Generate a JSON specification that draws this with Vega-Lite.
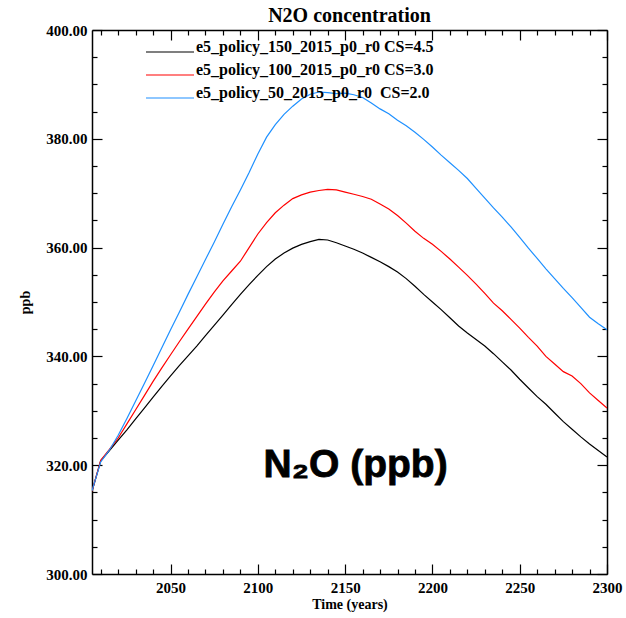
{
  "$schema": "https://vega.github.io/schema/vega-lite/v6.json",
  "width": 515,
  "height": 544,
  "autosize": {"type": "none"},
  "padding": {"left": 92, "top": 30, "right": 19, "bottom": 44},
  "background": "white",
  "config": {"view": {"stroke": null}, "font": "Liberation Serif"},
  "title": {"text": "N2O concentration", "font": "Liberation Serif", "fontSize": 20, "fontWeight": "bold", "color": "black", "anchor": "middle", "offset": -3},
  "datasets": {
    "n2o": [
      {"year": 2005, "s150": 315.2, "s100": 315.2, "s50": 315.3},
      {"year": 2010, "s150": 320.8, "s100": 320.9, "s50": 320.6},
      {"year": 2015, "s150": 322.7, "s100": 322.9, "s50": 322.8},
      {"year": 2020, "s150": 324.6, "s100": 325.0, "s50": 325.5},
      {"year": 2025, "s150": 326.5, "s100": 327.6, "s50": 328.6},
      {"year": 2030, "s150": 328.5, "s100": 330.2, "s50": 331.8},
      {"year": 2035, "s150": 330.5, "s100": 332.8, "s50": 335.0},
      {"year": 2040, "s150": 332.5, "s100": 335.4, "s50": 338.3},
      {"year": 2045, "s150": 334.5, "s100": 337.9, "s50": 341.6},
      {"year": 2050, "s150": 336.4, "s100": 340.3, "s50": 344.9},
      {"year": 2055, "s150": 338.3, "s100": 342.7, "s50": 348.1},
      {"year": 2060, "s150": 340.1, "s100": 345.0, "s50": 351.4},
      {"year": 2065, "s150": 341.9, "s100": 347.3, "s50": 354.6},
      {"year": 2070, "s150": 343.8, "s100": 349.6, "s50": 357.8},
      {"year": 2075, "s150": 345.7, "s100": 351.8, "s50": 361.0},
      {"year": 2080, "s150": 347.6, "s100": 353.9, "s50": 364.3},
      {"year": 2085, "s150": 349.5, "s100": 355.7, "s50": 367.5},
      {"year": 2090, "s150": 351.4, "s100": 357.5, "s50": 370.6},
      {"year": 2095, "s150": 353.2, "s100": 360.0, "s50": 373.8},
      {"year": 2100, "s150": 354.9, "s100": 362.5, "s50": 377.2},
      {"year": 2105, "s150": 356.5, "s100": 364.6, "s50": 380.3},
      {"year": 2110, "s150": 357.9, "s100": 366.4, "s50": 382.6},
      {"year": 2115, "s150": 359.0, "s100": 367.8, "s50": 384.5},
      {"year": 2120, "s150": 359.9, "s100": 369.0, "s50": 386.0},
      {"year": 2125, "s150": 360.6, "s100": 369.7, "s50": 387.3},
      {"year": 2130, "s150": 361.1, "s100": 370.2, "s50": 388.2},
      {"year": 2135, "s150": 361.5, "s100": 370.5, "s50": 388.6},
      {"year": 2140, "s150": 361.4, "s100": 370.7, "s50": 388.5},
      {"year": 2145, "s150": 360.9, "s100": 370.6, "s50": 388.3},
      {"year": 2150, "s150": 360.3, "s100": 370.2, "s50": 388.4},
      {"year": 2155, "s150": 359.7, "s100": 369.8, "s50": 388.1},
      {"year": 2160, "s150": 359.0, "s100": 369.4, "s50": 387.6},
      {"year": 2165, "s150": 358.2, "s100": 368.9, "s50": 386.6},
      {"year": 2170, "s150": 357.4, "s100": 368.0, "s50": 385.5},
      {"year": 2175, "s150": 356.5, "s100": 367.1, "s50": 384.6},
      {"year": 2180, "s150": 355.5, "s100": 365.9, "s50": 383.4},
      {"year": 2185, "s150": 354.3, "s100": 364.5, "s50": 382.4},
      {"year": 2190, "s150": 352.9, "s100": 363.0, "s50": 381.2},
      {"year": 2195, "s150": 351.4, "s100": 361.7, "s50": 379.9},
      {"year": 2200, "s150": 350.0, "s100": 360.6, "s50": 378.5},
      {"year": 2205, "s150": 348.6, "s100": 359.3, "s50": 377.0},
      {"year": 2210, "s150": 347.1, "s100": 357.9, "s50": 375.6},
      {"year": 2215, "s150": 345.6, "s100": 356.4, "s50": 374.2},
      {"year": 2220, "s150": 344.3, "s100": 354.9, "s50": 372.7},
      {"year": 2225, "s150": 343.1, "s100": 353.3, "s50": 370.9},
      {"year": 2230, "s150": 341.9, "s100": 351.6, "s50": 369.1},
      {"year": 2235, "s150": 340.5, "s100": 349.8, "s50": 367.3},
      {"year": 2240, "s150": 339.0, "s100": 348.4, "s50": 365.6},
      {"year": 2245, "s150": 337.5, "s100": 346.8, "s50": 363.8},
      {"year": 2250, "s150": 335.8, "s100": 345.2, "s50": 361.9},
      {"year": 2255, "s150": 334.2, "s100": 343.5, "s50": 359.9},
      {"year": 2260, "s150": 332.6, "s100": 341.9, "s50": 358.0},
      {"year": 2265, "s150": 331.2, "s100": 340.0, "s50": 356.1},
      {"year": 2270, "s150": 329.6, "s100": 338.6, "s50": 354.3},
      {"year": 2275, "s150": 328.0, "s100": 337.2, "s50": 352.5},
      {"year": 2280, "s150": 326.6, "s100": 336.4, "s50": 350.8},
      {"year": 2285, "s150": 325.2, "s100": 335.0, "s50": 349.0},
      {"year": 2290, "s150": 323.9, "s100": 333.3, "s50": 347.2},
      {"year": 2295, "s150": 322.7, "s100": 331.9, "s50": 346.0},
      {"year": 2300, "s150": 321.5, "s100": 330.5, "s50": 344.9}
    ]
  },
  "layer": [
    {
      "data": {"name": "n2o"},
      "transform": [{"fold": ["s150", "s100", "s50"], "as": ["run", "ppb"]}],
      "mark": {"type": "line", "strokeWidth": 1.2, "clip": true},
      "encoding": {
        "x": {
          "field": "year", "type": "quantitative",
          "scale": {"domain": [2005, 2300], "nice": false, "zero": false},
          "axis": {
            "orient": "bottom",
            "values": [2050, 2100, 2150, 2200, 2250, 2300],
            "format": "d",
            "tickSize": -10,
            "grid": false,
            "domainColor": "black", "domainWidth": 1.5,
            "tickColor": "black", "tickWidth": 1.2,
            "labelFont": "Liberation Serif", "labelFontWeight": "bold", "labelFontSize": 15, "labelColor": "black",
            "labelPadding": 16, "labelOverlap": false, "labelFlush": false,
            "title": "Time (years)", "titleFont": "Liberation Serif", "titleFontSize": 14, "titleFontWeight": "bold", "titleColor": "black", "titlePadding": 2
          }
        },
        "y": {
          "field": "ppb", "type": "quantitative",
          "scale": {"domain": [300, 400], "nice": false, "zero": false},
          "axis": {
            "orient": "left",
            "values": [300, 320, 340, 360, 380, 400],
            "format": ".2f",
            "tickSize": -10,
            "grid": false,
            "domainColor": "black", "domainWidth": 1.5,
            "tickColor": "black", "tickWidth": 1.2,
            "labelFont": "Liberation Serif", "labelFontWeight": "bold", "labelFontSize": 15, "labelColor": "black",
            "labelPadding": 15, "labelOverlap": false, "labelFlush": false,
            "title": "ppb", "titleFont": "Liberation Serif", "titleFontSize": 14, "titleFontWeight": "bold", "titleColor": "black", "titlePadding": 13
          }
        },
        "color": {
          "field": "run", "type": "nominal",
          "scale": {"domain": ["s150", "s100", "s50"], "range": ["#000000", "#ff0000", "#1e90ff"]},
          "legend": {
            "orient": "none", "legendX": 53, "legendY": 14,
            "title": null,
            "symbolType": "stroke", "symbolSize": 2304, "symbolStrokeWidth": 1.2,
            "clipHeight": 16,
            "labelExpr": "datum.label == 's150' ? 'e5_policy_150_2015_p0_r0 CS=4.5' : datum.label == 's100' ? 'e5_policy_100_2015_p0_r0 CS=3.0' : 'e5_policy_50_2015_p0_r0\u00a0 CS=2.0'",
            "labelFont": "Liberation Serif", "labelFontWeight": "bold", "labelFontSize": 16, "labelColor": "black",
            "labelLimit": 400, "labelOffset": 1, "labelBaseline": "alphabetic",
            "rowPadding": 2
          }
        }
      }
    },
    {
      "data": {"values": [{}]},
      "mark": {"type": "text", "font": "Liberation Sans", "fontSize": 39, "fontWeight": "bold", "color": "black", "stroke": "black", "strokeWidth": 0.8, "align": "center", "baseline": "middle"},
      "encoding": {
        "x": {
          "datum": 2156, "type": "quantitative",
          "axis": {
            "orient": "top",
            "values": [2050, 2100, 2150, 2200, 2250, 2300],
            "labels": false, "title": null, "grid": false, "tickSize": -10,
            "domainColor": "black", "domainWidth": 1.5, "tickColor": "black", "tickWidth": 1.2
          }
        },
        "y": {
          "datum": 320, "type": "quantitative",
          "axis": {
            "orient": "right",
            "values": [300, 320, 340, 360, 380, 400],
            "labels": false, "title": null, "grid": false, "tickSize": -10,
            "domainColor": "black", "domainWidth": 1.5, "tickColor": "black", "tickWidth": 1.2
          }
        },
        "text": {"value": "N₂O (ppb)"}
      }
    },
    {
      "data": {"values": [{}]},
      "mark": {"type": "point", "opacity": 0},
      "encoding": {
        "x": {
          "datum": 2150, "type": "quantitative",
          "axis": {
            "orient": "bottom",
            "values": [2010, 2020, 2030, 2040, 2060, 2070, 2080, 2090, 2110, 2120, 2130, 2140, 2160, 2170, 2180, 2190, 2210, 2220, 2230, 2240, 2260, 2270, 2280, 2290],
            "labels": false, "title": null, "grid": false, "domain": false, "tickSize": -5,
            "tickColor": "black", "tickWidth": 1.2
          }
        },
        "y": {
          "datum": 350, "type": "quantitative",
          "axis": {
            "orient": "left",
            "values": [305, 310, 315, 325, 330, 335, 345, 350, 355, 365, 370, 375, 385, 390, 395],
            "labels": false, "title": null, "grid": false, "domain": false, "tickSize": -5,
            "tickColor": "black", "tickWidth": 1.2
          }
        }
      }
    },
    {
      "data": {"values": [{}]},
      "mark": {"type": "point", "opacity": 0},
      "encoding": {
        "x": {
          "datum": 2150, "type": "quantitative",
          "axis": {
            "orient": "top",
            "values": [2010, 2020, 2030, 2040, 2060, 2070, 2080, 2090, 2110, 2120, 2130, 2140, 2160, 2170, 2180, 2190, 2210, 2220, 2230, 2240, 2260, 2270, 2280, 2290],
            "labels": false, "title": null, "grid": false, "domain": false, "tickSize": -5,
            "tickColor": "black", "tickWidth": 1.2
          }
        },
        "y": {
          "datum": 350, "type": "quantitative",
          "axis": {
            "orient": "right",
            "values": [305, 310, 315, 325, 330, 335, 345, 350, 355, 365, 370, 375, 385, 390, 395],
            "labels": false, "title": null, "grid": false, "domain": false, "tickSize": -5,
            "tickColor": "black", "tickWidth": 1.2
          }
        }
      }
    }
  ],
  "resolve": {"axis": {"x": "independent", "y": "independent"}}
}
